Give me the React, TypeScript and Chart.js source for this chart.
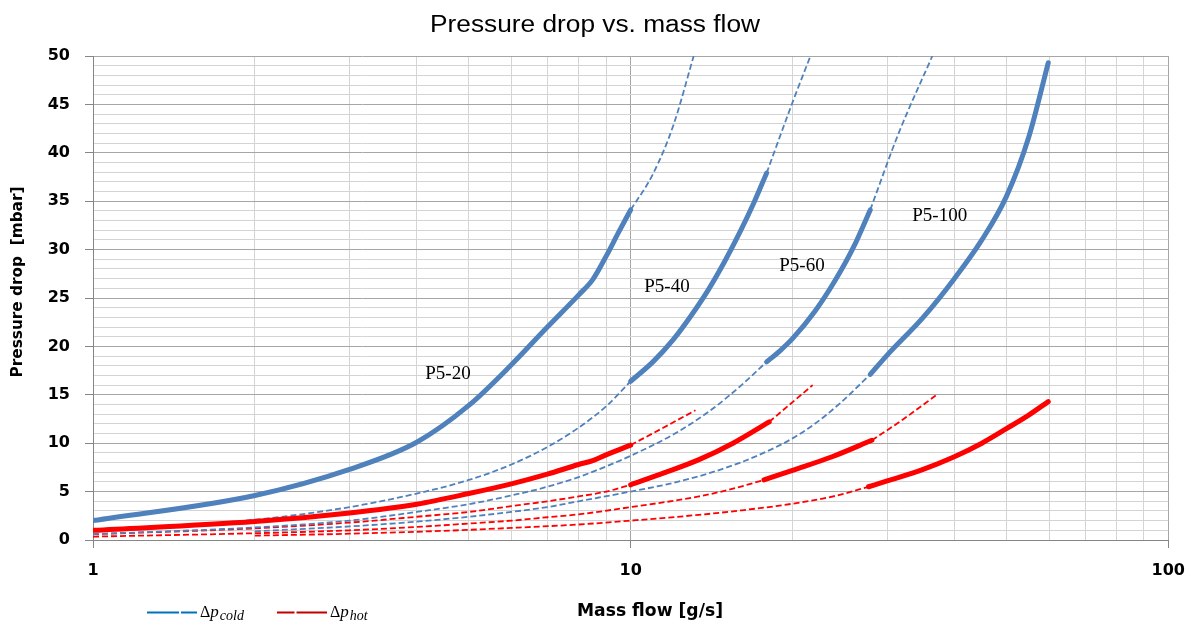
import React, { useEffect, useRef } from 'react';
import { Chart, registerables } from 'chart.js';

Chart.register(...registerables);

// ---------------- data ----------------
// Cold side (blue)
const COLD_20_SOLID_X = [1, 2, 3, 4, 5, 6, 7, 8, 8.5, 9, 9.5, 10];
const COLD_20_SOLID_Y = [2.0, 4.6, 7.3, 10.1, 13.9, 18.1, 22.0, 25.3, 26.9, 29.3, 31.8, 34.1];
const COLD_20_DASH_X = [10, 11, 12, 13.1];
const COLD_20_DASH_Y = [34.1, 37.8, 42.8, 50];

const COLD_40_DASH_LO_X = [1, 2, 3, 4, 5, 6, 7, 8, 9, 10];
const COLD_40_DASH_LO_Y = [1.0, 2.1, 3.4, 4.8, 6.2, 7.8, 9.6, 11.6, 13.8, 16.4];
const COLD_40_SOLID_X = [10, 11, 12, 13, 14, 15, 16, 17, 17.9];
const COLD_40_SOLID_Y = [16.4, 18.4, 20.7, 23.3, 26.0, 28.9, 31.9, 35.0, 37.9];
const COLD_40_DASH_HI_X = [17.9, 20, 21.6];
const COLD_40_DASH_HI_Y = [37.9, 45.2, 50];

const COLD_60_DASH_LO_X = [1, 2, 3, 4, 5, 6, 7, 8, 9, 10, 12, 14, 16, 17.9];
const COLD_60_DASH_LO_Y = [0.6, 1.3, 2.0, 2.9, 3.7, 4.6, 5.5, 6.5, 7.6, 8.7, 10.9, 13.3, 15.9, 18.4];
const COLD_60_SOLID_X = [17.9, 19, 20, 22, 24, 26, 27.9];
const COLD_60_SOLID_Y = [18.4, 19.6, 20.8, 23.6, 26.8, 30.3, 34.1];
const COLD_60_DASH_HI_X = [27.9, 31.5, 36.4];
const COLD_60_DASH_HI_Y = [34.1, 42.0, 50];

const COLD_100_DASH_LO_X = [2, 3, 4, 5, 6, 7, 8, 10, 12, 14, 16, 18, 20, 22, 24.6, 27.9];
const COLD_100_DASH_LO_Y = [0.9, 1.4, 1.9, 2.4, 2.9, 3.4, 4.0, 5.0, 5.9, 6.9, 8.0, 9.2, 10.5, 12.0, 14.2, 17.1];
const COLD_100_SOLID_X = [27.9, 30, 35, 40, 45, 50, 55, 59.8];
const COLD_100_SOLID_Y = [17.1, 19.1, 23.0, 27.0, 31.0, 35.5, 41.6, 49.3];

// Hot side (red)
const HOT_20_SOLID_X = [1, 2, 3, 4, 5, 6, 7, 8, 8.5, 9, 10];
const HOT_20_SOLID_Y = [1.0, 1.9, 2.8, 3.7, 4.8, 5.8, 6.8, 7.8, 8.2, 8.8, 9.8];
const HOT_20_DASH_X = [10, 11.5, 13.2];
const HOT_20_DASH_Y = [9.8, 11.6, 13.4];

const HOT_40_DASH_LO_X = [1, 2, 3, 4, 5, 6, 7, 8, 9, 10];
const HOT_40_DASH_LO_Y = [0.6, 1.2, 1.8, 2.4, 2.9, 3.5, 4.0, 4.5, 5.0, 5.7];
const HOT_40_SOLID_X = [10, 11.5, 13.4, 15.5, 18.1];
const HOT_40_SOLID_Y = [5.7, 6.9, 8.3, 10.0, 12.2];
const HOT_40_DASH_HI_X = [18.1, 21.8];
const HOT_40_DASH_HI_Y = [12.2, 16.0];

const HOT_60_DASH_LO_X = [1, 2, 3, 4, 5, 6, 7, 8, 10, 13.4, 15.5, 17.7];
const HOT_60_DASH_LO_Y = [0.35, 0.7, 1.0, 1.35, 1.7, 2.0, 2.35, 2.65, 3.4, 4.5, 5.3, 6.2];
const HOT_60_SOLID_X = [17.7, 20, 23.7, 28.1];
const HOT_60_SOLID_Y = [6.2, 7.2, 8.6, 10.3];
const HOT_60_DASH_HI_X = [28.1, 32, 37.1];
const HOT_60_DASH_HI_Y = [10.3, 12.4, 15.0];

const HOT_100_DASH_LO_X = [2, 3, 4, 5, 6, 8, 10, 13.4, 16, 20, 24, 27.7];
const HOT_100_DASH_LO_Y = [0.45, 0.65, 0.85, 1.05, 1.25, 1.6, 2.0, 2.6, 3.05, 3.75, 4.55, 5.5];
const HOT_100_SOLID_X = [27.7, 30, 35, 40, 45, 50, 55, 59.8];
const HOT_100_SOLID_Y = [5.5, 6.1, 7.3, 8.6, 10.0, 11.5, 12.9, 14.3];

// Curve labels (anchor: left / baseline, in data units)
const CURVE_LABELS = ['P5-20', 'P5-40', 'P5-60', 'P5-100'];
const CURVE_LABEL_X = [4.15, 10.6, 18.9, 33.4];
const CURVE_LABEL_Y = [16.65, 25.6, 27.8, 33.0];

// Axes
const X_GRID = [1, 2, 3, 4, 5, 6, 7, 8, 9, 10, 20, 30, 40, 50, 60, 70, 80, 90, 100];
const X_LABELS = [1, 10, 100];
const Y_LABELS = [0, 5, 10, 15, 20, 25, 30, 35, 40, 45, 50];
const Y_MIN = 0;
const Y_MAX = 50;

const TITLE = 'Pressure drop vs. mass flow';
const X_TITLE = 'Mass flow [g/s]';
const Y_TITLE = 'Pressure drop  [mbar]';

// ---------------- styles ----------------
const BLUE = '#4F81BD';
const RED = '#FF0000';
const GRID_MAJOR = '#a6a6a6';
const GRID_MINOR = '#d4d4d4';
const AXIS = '#868686';

const pts = (xs: number[], ys: number[]) => xs.map((x, i) => ({ x, y: ys[i] }));

const solid = (label: string, xs: number[], ys: number[], color: string) => ({
  label,
  data: pts(xs, ys),
  showLine: true,
  borderColor: color,
  backgroundColor: color,
  borderWidth: 5,
  borderCapStyle: 'round' as const,
  borderJoinStyle: 'round' as const,
  pointRadius: 0,
  cubicInterpolationMode: 'monotone' as const,
});

const dashed = (label: string, xs: number[], ys: number[], color: string) => ({
  label,
  data: pts(xs, ys),
  showLine: true,
  borderColor: color,
  backgroundColor: color,
  borderWidth: 1.8,
  borderDash: [6, 3],
  borderCapStyle: 'butt' as const,
  pointRadius: 0,
  cubicInterpolationMode: 'monotone' as const,
});

function fitText(ctx: CanvasRenderingContext2D, text: string, cx: number, cy: number, width: number) {
  const w = ctx.measureText(text).width || 1;
  ctx.save();
  ctx.translate(cx, cy);
  ctx.scale(width / w, 1);
  ctx.textAlign = 'center';
  ctx.fillText(text, 0, 0);
  ctx.restore();
}

const textPlugin = {
  id: 'customText',
  afterDatasetsDraw(chart: any) {
    const ctx = chart.ctx as CanvasRenderingContext2D;
    const xs = chart.scales.x;
    const ys = chart.scales.y;
    ctx.save();
    ctx.fillStyle = '#000';
    ctx.font = '19px "Liberation Serif"';
    ctx.textAlign = 'left';
    ctx.textBaseline = 'alphabetic';
    CURVE_LABELS.forEach((t, i) => {
      ctx.fillText(t, xs.getPixelForValue(CURVE_LABEL_X[i]), ys.getPixelForValue(CURVE_LABEL_Y[i]));
    });
    ctx.restore();
  },
  afterDraw(chart: any) {
    const ctx = chart.ctx as CanvasRenderingContext2D;
    ctx.save();
    ctx.fillStyle = '#000';
    ctx.textBaseline = 'alphabetic';
    // title
    ctx.font = '23px "Liberation Sans"';
    fitText(ctx, TITLE, 595, 31.5, 330);
    // x title
    ctx.font = 'bold 17px "DejaVu Sans"';
    fitText(ctx, X_TITLE, 650, 616, 146);
    // y title
    ctx.save();
    ctx.translate(18, 282);
    ctx.rotate(-Math.PI / 2);
    ctx.font = 'bold 16px "DejaVu Sans"';
    ctx.textBaseline = 'middle';
    fitText(ctx, Y_TITLE, 0, 0, 191);
    ctx.restore();

    // legend
    const drawEntry = (x0: number, gap: number, x1: number, color: string, sub: string, tx: number) => {
      ctx.strokeStyle = color;
      ctx.lineWidth = 2;
      ctx.beginPath();
      ctx.moveTo(x0, 612.5);
      ctx.lineTo(gap - 1, 612.5);
      ctx.moveTo(gap + 1, 612.5);
      ctx.lineTo(x1, 612.5);
      ctx.stroke();
      ctx.fillStyle = '#000';
      ctx.textAlign = 'left';
      ctx.textBaseline = 'alphabetic';
      ctx.font = '16px "Liberation Serif"';
      ctx.fillText('Δ', tx, 617);
      let x = tx + ctx.measureText('Δ').width;
      ctx.font = 'italic 17px "Liberation Serif"';
      ctx.fillText('p', x, 617);
      x += ctx.measureText('p').width + 1;
      ctx.font = 'italic 14px "Liberation Serif"';
      ctx.fillText(sub, x, 619.5);
    };
    drawEntry(147, 180, 197, '#0070C0', 'cold', 200);
    drawEntry(277, 295.5, 327, '#C00000', 'hot', 330);
    ctx.restore();
  },
};

const isDecade = (v: number) => X_LABELS.includes(v);

export default function App() {
  const ref = useRef<HTMLCanvasElement | null>(null);

  useEffect(() => {
    document.body.style.margin = '0';
    document.body.style.overflow = 'hidden';
    if (!ref.current) return;
    const yGrid: number[] = [];
    for (let v = Y_MIN; v <= Y_MAX; v += 1) yGrid.push(v);

    const datasets = [
      solid('Cold P5-20', COLD_20_SOLID_X, COLD_20_SOLID_Y, BLUE),
      solid('Cold P5-40', COLD_40_SOLID_X, COLD_40_SOLID_Y, BLUE),
      solid('Cold P5-60', COLD_60_SOLID_X, COLD_60_SOLID_Y, BLUE),
      solid('Cold P5-100', COLD_100_SOLID_X, COLD_100_SOLID_Y, BLUE),
      solid('Hot P5-20', HOT_20_SOLID_X, HOT_20_SOLID_Y, RED),
      solid('Hot P5-40', HOT_40_SOLID_X, HOT_40_SOLID_Y, RED),
      solid('Hot P5-60', HOT_60_SOLID_X, HOT_60_SOLID_Y, RED),
      solid('Hot P5-100', HOT_100_SOLID_X, HOT_100_SOLID_Y, RED),
      dashed('Cold P5-20 ext', COLD_20_DASH_X, COLD_20_DASH_Y, BLUE),
      dashed('Cold P5-40 low', COLD_40_DASH_LO_X, COLD_40_DASH_LO_Y, BLUE),
      dashed('Cold P5-40 ext', COLD_40_DASH_HI_X, COLD_40_DASH_HI_Y, BLUE),
      dashed('Cold P5-60 low', COLD_60_DASH_LO_X, COLD_60_DASH_LO_Y, BLUE),
      dashed('Cold P5-60 ext', COLD_60_DASH_HI_X, COLD_60_DASH_HI_Y, BLUE),
      dashed('Cold P5-100 low', COLD_100_DASH_LO_X, COLD_100_DASH_LO_Y, BLUE),
      dashed('Hot P5-20 ext', HOT_20_DASH_X, HOT_20_DASH_Y, RED),
      dashed('Hot P5-40 low', HOT_40_DASH_LO_X, HOT_40_DASH_LO_Y, RED),
      dashed('Hot P5-40 ext', HOT_40_DASH_HI_X, HOT_40_DASH_HI_Y, RED),
      dashed('Hot P5-60 low', HOT_60_DASH_LO_X, HOT_60_DASH_LO_Y, RED),
      dashed('Hot P5-60 ext', HOT_60_DASH_HI_X, HOT_60_DASH_HI_Y, RED),
      dashed('Hot P5-100 low', HOT_100_DASH_LO_X, HOT_100_DASH_LO_Y, RED),
    ];

    const tickFont = { family: 'DejaVu Sans', size: 16, weight: 'bold' as const };

    const chart = new Chart(ref.current, {
      type: 'scatter',
      data: { datasets: datasets as any },
      options: {
        responsive: false,
        animation: false,
        events: [],
        layout: { padding: { top: 56, right: 28, bottom: 0, left: 0 } },
        plugins: {
          legend: { display: false },
          title: { display: false },
          tooltip: { enabled: false },
        },
        scales: {
          x: {
            type: 'logarithmic',
            min: 1,
            max: 100,
            afterBuildTicks: (s: any) => {
              s.ticks = X_GRID.map((v) => ({ value: v }));
            },
            afterFit: (s: any) => {
              s.height = 81;
            },
            ticks: {
              autoSkip: false,
              maxRotation: 0,
              minRotation: 0,
              padding: 13,
              color: '#000',
              font: tickFont,
              callback: (v: any) => (X_LABELS.includes(Number(v)) ? String(v) : ''),
            },
            grid: {
              color: (c: any) => (isDecade(c.tick?.value) ? GRID_MAJOR : GRID_MINOR),
              tickColor: (c: any) => (isDecade(c.tick?.value) ? AXIS : 'rgba(0,0,0,0)'),
              tickLength: 8,
              lineWidth: 1,
            },
            border: { color: AXIS, width: 1 },
          },
          y: {
            type: 'linear',
            min: Y_MIN,
            max: Y_MAX,
            afterBuildTicks: (s: any) => {
              s.ticks = yGrid.map((v) => ({ value: v }));
            },
            afterFit: (s: any) => {
              s.width = 93;
            },
            ticks: {
              autoSkip: false,
              padding: 15,
              color: '#000',
              font: tickFont,
              callback: (v: any) => (Y_LABELS.includes(Number(v)) ? String(v) : ''),
            },
            grid: {
              color: (c: any) => (Y_LABELS.includes(c.tick?.value) ? GRID_MAJOR : GRID_MINOR),
              tickColor: (c: any) => (Y_LABELS.includes(c.tick?.value) ? AXIS : 'rgba(0,0,0,0)'),
              tickLength: 8,
              lineWidth: 1,
            },
            border: { color: AXIS, width: 1 },
          },
        },
      },
      plugins: [textPlugin],
    });
    return () => chart.destroy();
  }, []);

  return (
    <div style={{ width: 1198, height: 621, background: '#fff' }}>
      <canvas ref={ref} width={1198} height={621} style={{ display: 'block' }} />
    </div>
  );
}
